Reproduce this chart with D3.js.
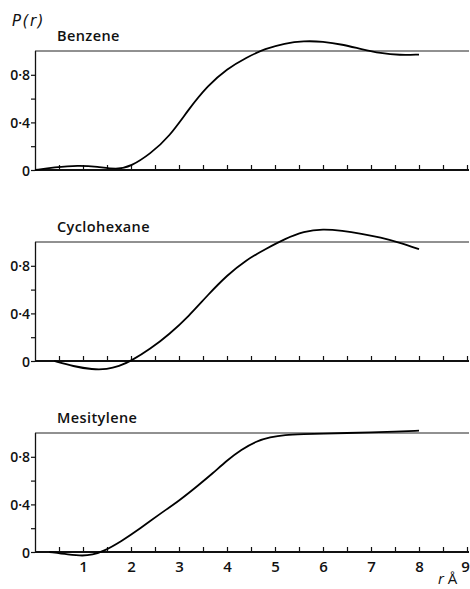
<!DOCTYPE html>
<html>
<head>
<meta charset="utf-8">
<script src="https://cdn.jsdelivr.net/npm/d3@7"></script>
<style>
  body { margin: 0; background: #fff; }
  svg { display: block; }
  .lbl { font-family: "Open Sans", "DejaVu Sans", sans-serif; font-weight: 600; fill: #111; }
</style>
</head>
<body>
<svg id="chart" width="470" height="589"></svg>
<script>
// panel names
var panelNames = ["Benzene", "Cyclohexane", "Mesitylene"];

// r in Angstrom and P(r), one pair of arrays per liquid
var benzeneR = [0, 0.4, 0.9, 1.3, 1.7, 2.0, 2.4, 2.8, 3.2, 3.6, 4.0, 4.4, 4.8, 5.2, 5.6, 6.0, 6.4, 6.8, 7.2, 7.6, 8.0];
var benzeneP = [0, 0.022, 0.04, 0.028, 0.003, 0.03, 0.135, 0.28, 0.51, 0.71, 0.85, 0.945, 1.02, 1.065, 1.085, 1.08, 1.055, 1.015, 0.98, 0.965, 0.97];

var cycloR = [0.4, 0.8, 1.2, 1.5, 1.75, 2.0, 2.4, 2.8, 3.2, 3.6, 4.0, 4.4, 4.8, 5.2, 5.6, 6.0, 6.4, 6.8, 7.2, 7.6, 8.0];
var cycloP = [0, -0.045, -0.072, -0.07, -0.045, 0, 0.1, 0.225, 0.375, 0.555, 0.72, 0.85, 0.94, 1.025, 1.09, 1.11, 1.095, 1.07, 1.04, 0.995, 0.94];

var mesitR = [0.3, 0.7, 1.0, 1.2, 1.4, 1.8, 2.2, 2.6, 3.0, 3.4, 3.7, 4.0, 4.3, 4.6, 4.9, 5.2, 5.6, 6.0, 6.5, 7.0, 7.5, 8.0];
var mesitP = [0, -0.022, -0.033, -0.022, 0, 0.09, 0.2, 0.32, 0.43, 0.56, 0.66, 0.77, 0.86, 0.93, 0.965, 0.985, 0.99, 0.995, 1.0, 1.005, 1.012, 1.02];

var xTicks = [0.5, 1, 1.5, 2, 2.5, 3, 3.5, 4, 4.5, 5, 5.5, 6, 6.5, 7, 7.5, 8, 8.5, 9];
var xLabels = [1, 2, 3, 4, 5, 6, 7, 8, 9];
var yTicks = [0, 0.2, 0.4, 0.6, 0.8];
var yLabels = { 0: "0", 0.4: "0\u00b74", 0.8: "0\u00b78" };

var series = [
  { name: panelNames[0], r: benzeneR, p: benzeneP },
  { name: panelNames[1], r: cycloR, p: cycloP },
  { name: panelNames[2], r: mesitR, p: mesitP }
];

var svg = d3.select("#chart");
var panelTop = [51, 242, 433], panelH = 119;
var xRight = 469;

var x = d3.scaleLinear().domain([0, 9]).range([35, 467]);

series.forEach(function (s, i) {
  var top = panelTop[i], base = top + panelH;
  var y = d3.scaleLinear().domain([0, 1]).range([base, top]);
  var g = svg.append("g");

  // x ticks pointing up into the plot
  var xAxis = d3.axisBottom(x).tickValues(xTicks).tickSizeInner(-5).tickSizeOuter(0).tickFormat("");
  var gx = g.append("g").attr("transform", "translate(0," + base + ")").call(xAxis);
  gx.select(".domain").remove();
  gx.selectAll("line").attr("stroke", "#111").attr("stroke-width", 1.2);

  // y ticks, outward
  var yAxis = d3.axisLeft(y).tickValues(yTicks).tickSize(4).tickPadding(1)
    .tickFormat(function (d) { return yLabels[d] || ""; });
  var gy = g.append("g").attr("transform", "translate(35,0)").call(yAxis);
  gy.select(".domain").remove();
  gy.selectAll("line").attr("stroke", "#111").attr("stroke-width", 1.2);
  gy.selectAll("text").attr("class", "lbl").style("font-size", "14px").attr("dy", "0.36em");

  // frame: baseline, left axis, P = 1 line
  g.append("line").attr("x1", 35).attr("x2", xRight).attr("y1", base).attr("y2", base)
    .attr("stroke", "#111").attr("stroke-width", 1.8);
  g.append("line").attr("x1", 35.5).attr("x2", 35.5).attr("y1", top).attr("y2", base)
    .attr("stroke", "#111").attr("stroke-width", 1.3);
  g.append("line").attr("x1", 35).attr("x2", xRight).attr("y1", y(1)).attr("y2", y(1))
    .attr("stroke", "#222").attr("stroke-width", 1);

  // the curve
  var line = d3.line()
    .x(function (d, j) { return x(s.r[j]); })
    .y(function (d) { return y(d); })
    .curve(d3.curveBasis);
  g.append("path").datum(s.p).attr("d", line)
    .attr("fill", "none").attr("stroke", "#000").attr("stroke-width", 1.8);

  g.append("text").attr("class", "lbl").attr("x", 57).attr("y", top - 10)
    .style("font-size", "14.5px").attr("letter-spacing", 0.4).text(s.name);

  if (i === 2) {
    var lab = d3.axisBottom(x).tickValues(xLabels).tickSize(0).tickFormat(d3.format("d"));
    var gl = g.append("g").attr("transform", "translate(0," + base + ")").call(lab);
    gl.select(".domain").remove();
    gl.selectAll("text").attr("class", "lbl").style("font-size", "15px")
      .attr("y", 20).attr("dy", 0)
      .attr("dx", function (d) { return d === 9 ? -2 : 0; });
  }
});

svg.append("text").attr("x", 12).attr("y", 26)
  .style("font-family", "'DejaVu Sans', sans-serif").style("font-style", "italic")
  .style("font-size", "15px").attr("letter-spacing", 1.5).attr("fill", "#111").text("P(r)");

svg.append("text").attr("x", 438).attr("y", 584)
  .style("font-family", "'Open Sans', sans-serif").style("font-size", "15px").attr("fill", "#111")
  .html("<tspan font-style='italic'>r</tspan> \u00c5");
</script>
</body>
</html>
